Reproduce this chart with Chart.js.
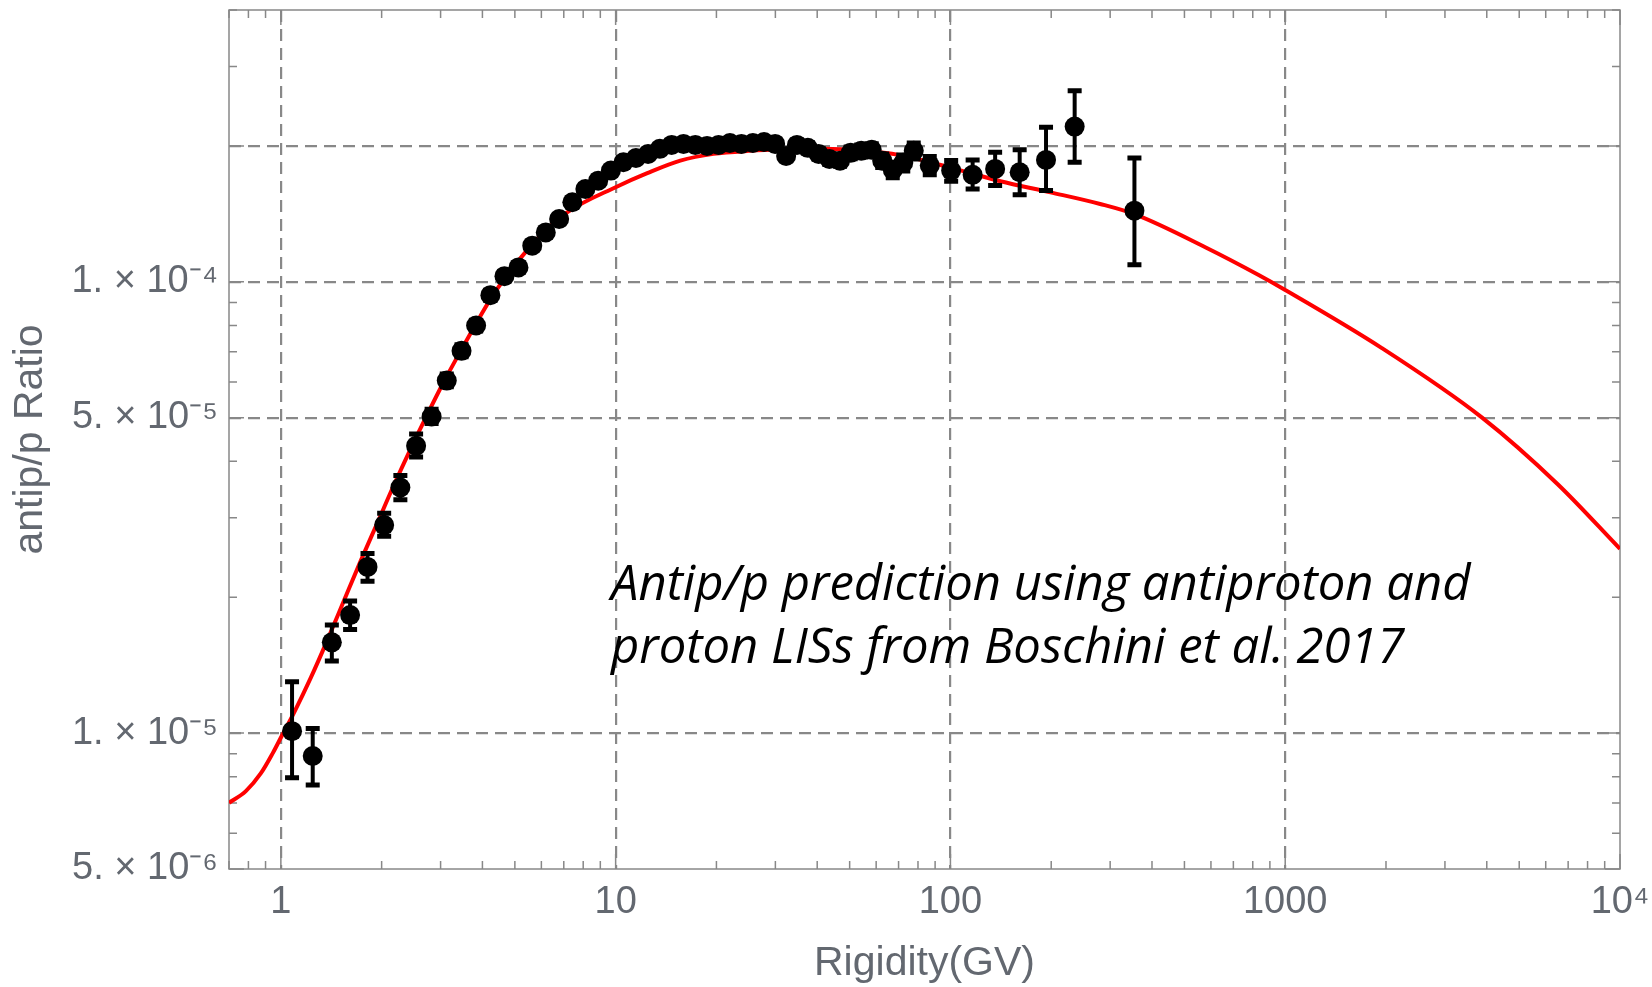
<!DOCTYPE html>
<html>
<head>
<meta charset="utf-8">
<script src="https://cdn.jsdelivr.net/npm/chart.js@4.4.1/dist/chart.umd.min.js"></script>
<style>
  html, body { margin: 0; padding: 0; background: #fff; }
  #wrap { width: 1652px; height: 987px; position: relative; }
</style>
</head>
<body>
<div id="wrap"><canvas id="myChart"></canvas></div>
<script>
// model curve (antip/p prediction)
const curveX = [0.70, 0.786, 0.872, 0.946, 1.005, 1.096, 1.229, 1.378, 1.545, 1.733, 1.943, 2.178, 2.444, 2.741, 3.073, 3.446, 3.866, 4.334, 4.976, 6.0, 7.18, 10.0, 12.43, 15.6, 19.6, 25, 32, 42, 55, 70, 100, 141, 199, 280, 356, 579, 833, 1000, 1944, 3873, 6516, 10000];
const curveY = [7.01e-6, 7.44e-6, 8.15e-6, 9.03e-6, 9.84e-6, 1.112e-5, 1.327e-5, 1.609e-5, 1.970e-5, 2.411e-5, 2.925e-5, 3.55e-5, 4.27e-5, 5.09e-5, 6.02e-5, 7.03e-5, 8.18e-5, 9.42e-5, 1.084e-4, 1.271e-4, 1.426e-4, 1.62e-4, 1.74e-4, 1.855e-4, 1.92e-4, 1.95e-4, 1.965e-4, 1.97e-4, 1.95e-4, 1.91e-4, 1.79e-4, 1.67e-4, 1.578e-4, 1.487e-4, 1.41e-4, 1.191e-4, 1.035e-4, 9.59e-5, 7.13e-5, 5.0e-5, 3.56e-5, 2.56e-5];

// measured points
const binX = [1.08, 1.245, 1.42, 1.61, 1.815, 2.035, 2.275, 2.535, 2.82, 3.13, 3.465, 3.83, 4.225, 4.655, 5.125, 5.635, 6.185, 6.78, 7.425, 8.12, 8.87, 9.68, 10.55, 11.5, 12.5, 13.55, 14.7, 15.95, 17.3, 18.75, 20.3, 21.95, 23.75, 25.7, 27.75, 29.95, 32.3, 34.8, 37.5, 40.4, 43.5, 46.8, 50.35, 54.15, 58.2, 62.55, 67.25, 72.3, 77.7, 86.75, 100.5, 116.5, 136, 161, 193, 235, 354.5];
const ratio = [1.01e-5, 8.90e-6, 1.589e-5, 1.826e-5, 2.335e-5, 2.89e-5, 3.50e-5, 4.33e-5, 5.03e-5, 6.04e-5, 7.03e-5, 8.00e-5, 9.34e-5, 1.029e-4, 1.076e-4, 1.202e-4, 1.286e-4, 1.377e-4, 1.50e-4, 1.605e-4, 1.675e-4, 1.763e-4, 1.84e-4, 1.88e-4, 1.92e-4, 1.97e-4, 2.01e-4, 2.02e-4, 2.01e-4, 2.0e-4, 2.01e-4, 2.03e-4, 2.02e-4, 2.03e-4, 2.04e-4, 2.02e-4, 1.90e-4, 2.01e-4, 1.98e-4, 1.92e-4, 1.87e-4, 1.855e-4, 1.93e-4, 1.95e-4, 1.96e-4, 1.855e-4, 1.77e-4, 1.835e-4, 1.95e-4, 1.81e-4, 1.763e-4, 1.725e-4, 1.778e-4, 1.748e-4, 1.862e-4, 2.207e-4, 1.437e-4];
const ratioLo = [7.96e-6, 7.67e-6, 1.444e-5, 1.697e-5, 2.17e-5, 2.73e-5, 3.29e-5, 4.09e-5, 4.85e-5, 5.85e-5, 6.82e-5, 7.78e-5, 9.10e-5, 1.005e-4, 1.050e-4, 1.174e-4, 1.256e-4, 1.345e-4, 1.466e-4, 1.569e-4, 1.638e-4, 1.725e-4, 1.800e-4, 1.840e-4, 1.880e-4, 1.928e-4, 1.966e-4, 1.976e-4, 1.966e-4, 1.955e-4, 1.965e-4, 1.984e-4, 1.974e-4, 1.983e-4, 1.992e-4, 1.971e-4, 1.853e-4, 1.958e-4, 1.928e-4, 1.869e-4, 1.818e-4, 1.802e-4, 1.872e-4, 1.890e-4, 1.898e-4, 1.790e-4, 1.700e-4, 1.760e-4, 1.870e-4, 1.725e-4, 1.670e-4, 1.605e-4, 1.633e-4, 1.559e-4, 1.592e-4, 1.839e-4, 1.091e-4];
const ratioHi = [1.30e-5, 1.024e-5, 1.736e-5, 1.962e-5, 2.50e-5, 3.07e-5, 3.72e-5, 4.60e-5, 5.22e-5, 6.25e-5, 7.25e-5, 8.22e-5, 9.58e-5, 1.053e-4, 1.102e-4, 1.230e-4, 1.316e-4, 1.409e-4, 1.534e-4, 1.641e-4, 1.712e-4, 1.801e-4, 1.880e-4, 1.920e-4, 1.960e-4, 2.012e-4, 2.054e-4, 2.064e-4, 2.054e-4, 2.045e-4, 2.055e-4, 2.076e-4, 2.066e-4, 2.077e-4, 2.088e-4, 2.069e-4, 1.947e-4, 2.062e-4, 2.032e-4, 1.971e-4, 1.922e-4, 1.908e-4, 1.988e-4, 2.010e-4, 2.022e-4, 1.920e-4, 1.840e-4, 1.910e-4, 2.030e-4, 1.895e-4, 1.856e-4, 1.862e-4, 1.935e-4, 1.962e-4, 2.198e-4, 2.651e-4, 1.881e-4];

// axes
const xTickValues = [0.7, 0.8, 0.9, 1, 2, 3, 4, 5, 6, 7, 8, 9, 10, 20, 30, 40, 50, 60, 70, 80, 90, 100, 200, 300, 400, 500, 600, 700, 800, 900, 1000, 2000, 3000, 4000, 5000, 6000, 7000, 8000, 9000, 10000];
const xTickLabels = ['', '', '', '1', '', '', '', '', '', '', '', '', '10', '', '', '', '', '', '', '', '', '100', '', '', '', '', '', '', '', '', '1000', '', '', '', '', '', '', '', '', '10⁴'];
const xGridValues = [1, 10, 100, 1000];

const yTickValues = [5e-6, 6e-6, 7e-6, 8e-6, 9e-6, 1e-5, 2e-5, 3e-5, 4e-5, 5e-5, 6e-5, 7e-5, 8e-5, 9e-5, 1e-4, 2e-4, 3e-4, 4e-4];
const yTickLabels = ['5. × 10⁻⁶', '', '', '', '', '1. × 10⁻⁵', '', '', '', '5. × 10⁻⁵', '', '', '', '', '1. × 10⁻⁴', '', '', ''];
const yGridValues = [1e-5, 5e-5, 1e-4, 2e-4];
const yMajorValues = [5e-6, 1e-5, 5e-5, 1e-4, 2e-4];

const noteLines = ['Antip/p prediction using antiproton and', 'proton LISs from Boschini et al. 2017'];

const grey = '#888888';
const labelGrey = '#636870';

// frame with inward ticks on all four sides
const frameTicks = {
    id: 'frameTicks',
    beforeDatasetsDraw(chart) {
        const {ctx, chartArea: a, scales: {x, y}} = chart;
        ctx.save();
        ctx.strokeStyle = grey;
        ctx.lineWidth = 1.5;
        ctx.strokeRect(a.left, a.top, a.right - a.left, a.bottom - a.top);
        ctx.beginPath();
        xTickValues.forEach(function (v, i) {
            const px = x.getPixelForValue(v);
            const len = xTickLabels[i] ? 15 : 8;
            ctx.moveTo(px, a.bottom); ctx.lineTo(px, a.bottom - len);
            ctx.moveTo(px, a.top); ctx.lineTo(px, a.top + len);
        });
        yTickValues.forEach(function (v) {
            const py = y.getPixelForValue(v);
            const len = yMajorValues.includes(v) ? 15 : 8;
            ctx.moveTo(a.left, py); ctx.lineTo(a.left + len, py);
            ctx.moveTo(a.right, py); ctx.lineTo(a.right - len, py);
        });
        ctx.stroke();
        ctx.restore();
    }
};

const errorBars = {
    id: 'errorBars',
    afterDatasetsDraw(chart) {
        const {ctx, scales: {x, y}} = chart;
        ctx.save();
        ctx.strokeStyle = '#000';
        ctx.lineWidth = 4;
        binX.forEach(function (v, i) {
            const px = x.getPixelForValue(v);
            const top = y.getPixelForValue(ratioHi[i]);
            const bot = y.getPixelForValue(ratioLo[i]);
            ctx.beginPath();
            ctx.moveTo(px, top); ctx.lineTo(px, bot);
            ctx.stroke();
            ctx.lineWidth = 5;
            ctx.beginPath();
            ctx.moveTo(px - 7, top); ctx.lineTo(px + 7, top);
            ctx.moveTo(px - 7, bot); ctx.lineTo(px + 7, bot);
            ctx.stroke();
            ctx.lineWidth = 4;
        });
        ctx.restore();
    }
};

const note = {
    id: 'note',
    afterDraw(chart) {
        const ctx = chart.ctx;
        ctx.save();
        ctx.fillStyle = '#000';
        ctx.font = 'italic 49px "Open Sans"';
        ctx.textBaseline = 'alphabetic';
        ctx.textAlign = 'left';
        ctx.fillText(noteLines[0], 611, 600);
        ctx.fillText(noteLines[1], 611, 663);
        ctx.restore();
    }
};

const myChart = new Chart(document.getElementById('myChart'), {
    type: 'scatter',
    data: {
        datasets: [
            {
                label: 'AMS-02',
                data: binX.map((v, i) => ({x: v, y: ratio[i]})),
                backgroundColor: '#000',
                borderWidth: 0,
                pointRadius: 10,
                pointHoverRadius: 10,
                order: 0
            },
            {
                label: 'prediction',
                type: 'line',
                data: curveX.map((v, i) => ({x: v, y: curveY[i]})),
                borderColor: '#ff0000',
                borderWidth: 4,
                pointRadius: 0,
                fill: false,
                cubicInterpolationMode: 'monotone',
                order: 1
            }
        ]
    },
    options: {
        responsive: true,
        maintainAspectRatio: false,
        animation: false,
        layout: {padding: {left: 0, right: 32, top: 8, bottom: 0}},
        plugins: {
            legend: {display: false},
            tooltip: {enabled: false}
        },
        scales: {
            x: {
                type: 'logarithmic',
                min: 0.7,
                max: 10000,
                afterBuildTicks: function (scale) {
                    scale.ticks = xTickValues.map(v => ({value: v}));
                },
                afterFit: function (scale) {
                    scale.height = 118;
                    scale.paddingLeft = 0;
                    scale.paddingRight = 0;
                },
                grid: {
                    drawTicks: false,
                    lineWidth: 2.2,
                    color: c => (c.tick && xGridValues.includes(c.tick.value)) ? grey : 'rgba(0,0,0,0)'
                },
                border: {display: false, dash: [12, 7]},
                ticks: {
                    autoSkip: false,
                    maxRotation: 0,
                    minRotation: 0,
                    padding: 11,
                    color: labelGrey,
                    font: {family: '"Liberation Sans", Arial, sans-serif', size: 38},
                    callback: (value, index) => xTickLabels[index]
                },
                title: {
                    display: true,
                    text: 'Rigidity(GV)',
                    color: labelGrey,
                    font: {family: '"Liberation Sans", Arial, sans-serif', size: 41, lineHeight: 1},
                    padding: {top: 0, bottom: 2.5}
                }
            },
            y: {
                type: 'logarithmic',
                min: 5e-6,
                max: 4e-4,
                afterBuildTicks: function (scale) {
                    scale.ticks = yTickValues.map(v => ({value: v}));
                },
                afterFit: function (scale) {
                    scale.width = 229;
                    scale.paddingTop = 0;
                    scale.paddingBottom = 0;
                },
                grid: {
                    drawTicks: false,
                    lineWidth: 2.2,
                    color: c => (c.tick && yGridValues.includes(c.tick.value)) ? grey : 'rgba(0,0,0,0)'
                },
                border: {display: false, dash: [12, 7]},
                ticks: {
                    autoSkip: false,
                    padding: 11,
                    color: labelGrey,
                    font: {family: '"Liberation Sans", Arial, sans-serif', size: 38},
                    callback: (value, index) => yTickLabels[index]
                },
                title: {
                    display: true,
                    text: 'antip/p Ratio',
                    color: labelGrey,
                    font: {family: '"Liberation Sans", Arial, sans-serif', size: 41, lineHeight: 1},
                    padding: {top: 10, bottom: 0}
                }
            }
        }
    },
    plugins: [frameTicks, errorBars, note]
});
</script>
</body>
</html>
